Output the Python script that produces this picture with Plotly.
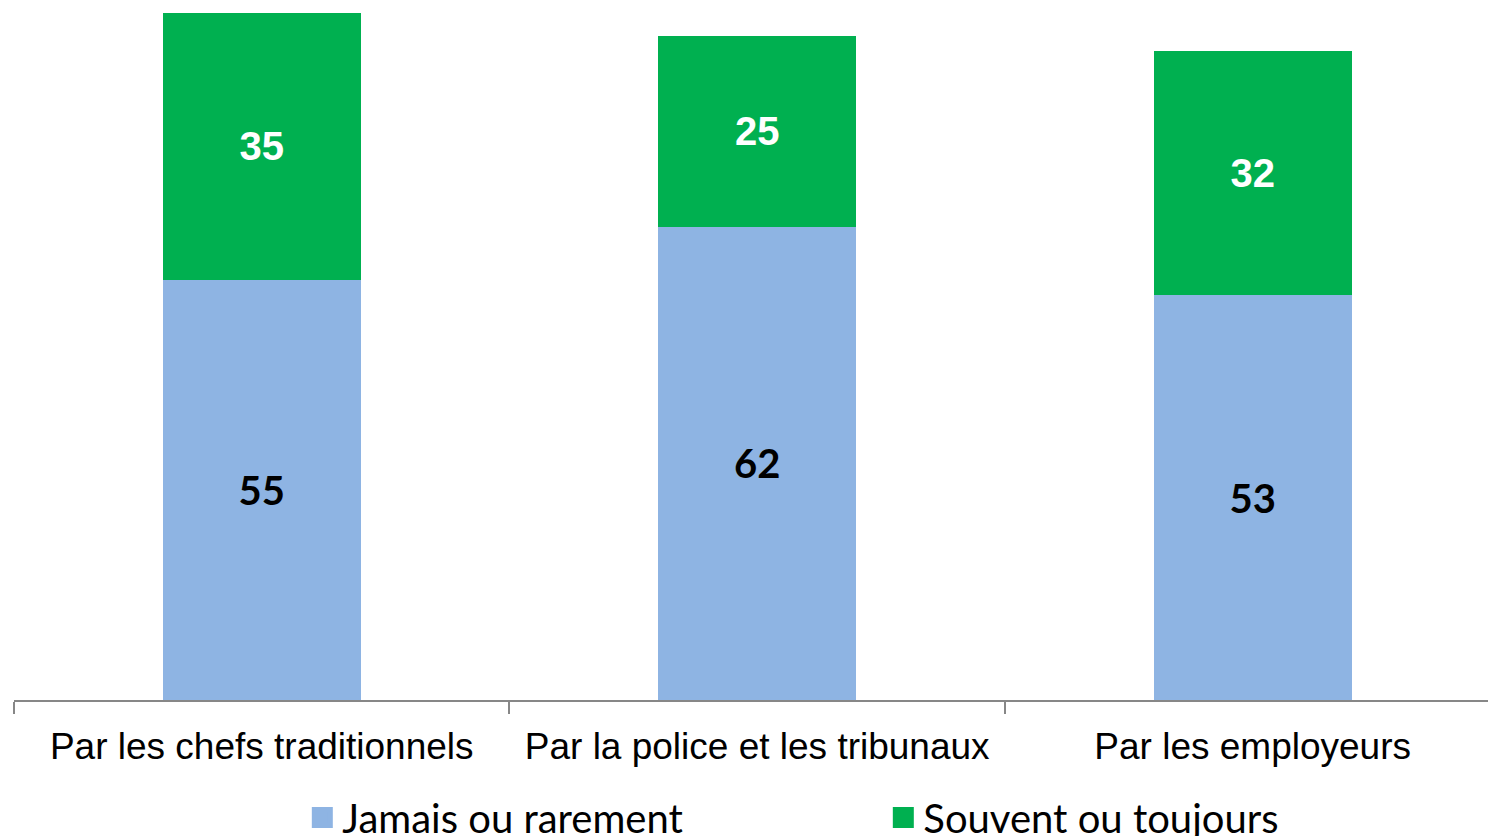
import plotly.graph_objects as go

categories = ["Par les chefs traditionnels", "Par la police et les tribunaux", "Par les employeurs"]
jamais = [55, 62, 53]
souvent = [35, 25, 32]
series_names = ["Jamais ou rarement", "Souvent ou toujours"]
colors = ["#8EB4E3", "#00B050"]

fig = go.Figure()
fig.add_trace(go.Bar(
    x=categories, y=jamais, name=series_names[0], showlegend=False,
    marker=dict(color=colors[0], line=dict(width=0)),
    text=[str(v) for v in jamais], textposition="inside", insidetextanchor="middle",
    textfont=dict(family="Lato, Liberation Sans, Arial", size=40, color="black", weight="bold"),
    textangle=0,
))
fig.add_trace(go.Bar(
    x=categories, y=souvent, name=series_names[1], showlegend=False,
    marker=dict(color=colors[1], line=dict(width=0)),
    text=[str(v) for v in souvent], textposition="inside", insidetextanchor="middle",
    textfont=dict(family="Liberation Sans, Arial", size=40, color="white", weight="bold"),
    textangle=0,
))
# legend proxies (larger square symbols)
for name, col in zip(series_names, colors):
    fig.add_trace(go.Scatter(
        x=[None], y=[None], mode="markers", name=name,
        marker=dict(symbol="square", size=23, color=col, line=dict(width=5, color=col)),
        hoverinfo="skip",
    ))

fig.update_layout(
    width=1488, height=836,
    barmode="stack", bargap=0.6,
    margin=dict(l=14, r=0, t=0, b=136, pad=0, autoexpand=False),
    plot_bgcolor="white", paper_bgcolor="white",
    xaxis=dict(
        range=[-0.5, 2.475], showgrid=False, zeroline=False,
        showline=True, linecolor="#878787", linewidth=1.5,
        ticks="outside", tickson="boundaries", ticklen=12, tickcolor="#878787", tickwidth=1.5,
        tickfont=dict(family="Liberation Sans, Arial", size=37, color="black"),
        ticklabelstandoff=13,
        fixedrange=True,
    ),
    yaxis=dict(range=[0, 91.67], visible=False, showgrid=False, zeroline=False, fixedrange=True),
    legend=dict(
        orientation="h", x=0.1956, xanchor="left",
        yref="container", y=1 - 785 / 836, yanchor="top",
        font=dict(family="Lato, Open Sans", size=40, color="black"),
        bgcolor="rgba(0,0,0,0)", traceorder="normal",
        entrywidth=536, entrywidthmode="pixels",
    ),
    showlegend=True,
)

fig.write_html("out.html", config={"displayModeBar": False},
               post_script="document.body.style.margin='0';document.body.style.overflow='hidden';")
